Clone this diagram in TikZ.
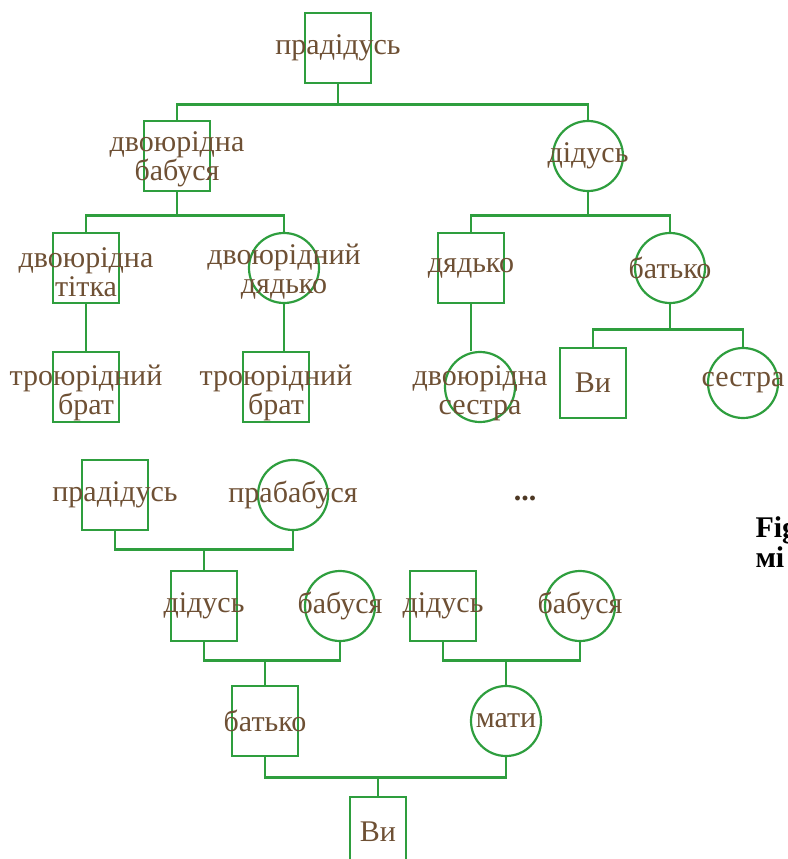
\documentclass[tikz,border=0pt]{standalone}
\usepackage{fontspec}
\setmainfont{Liberation Serif}
\definecolor{famgreen}{RGB}{46,158,62}
\definecolor{fambrown}{RGB}{110,80,52}

\begin{document}
\begin{tikzpicture}[x = 1pt, y = -1pt,
    link/.style = {draw = famgreen, line width = 2.8pt},
    male/.style = {shape = rectangle, draw = famgreen, line width = 2.2pt,
        minimum width = 66pt, minimum height = 70pt, inner sep = 0pt},
    female/.style = {shape = circle, draw = famgreen, line width = 2.2pt,
        minimum size = 70pt, inner sep = 0pt},
    every label/.style = {text = fambrown, align = center,
        font = \fontsize{30}{29}\selectfont}]
    \useasboundingbox (0,0) rectangle (787,859);
    \clip (0,0) rectangle (787,859);

    \node[male] (pd) at (338,48) [label = {center:прадідусь}] {};
    \node[male] (bb) at (177,156) [label = {[yshift=-3pt]center:двоюрідна\\бабуся}] {};
    \node[female] (dg) at (588,156) [label = {center:дідусь}] {};
    \node[male] (tt) at (86,268) [label = {[yshift=-4pt]center:двоюрідна\\тітка}] {};
    \node[female] (dd) at (284,268) [label = {[yshift=-4pt]center:двоюрідний\\дядько}] {};
    \node[male] (dk) at (471,268) [label = {center:дядько}] {};
    \node[female] (bt) at (670,268) [label = {center:батько}] {};
    \node[male] (tb1) at (86,387) [label = {[yshift=-6pt]center:троюрідний\\брат}] {};
    \node[male] (tb2) at (276,387) [label = {[yshift=-6pt]center:троюрідний\\брат}] {};
    \node[female] (ds) at (480,387) [label = {[yshift=-6pt]center:двоюрідна\\сестра}] {};
    \node[male] (vy) at (593,383) [label = {center:Ви}] {};
    \node[female] (ss) at (743,383) [label = {center:сестра}] {};

    \draw[link] (pd.south) -- ++(0,20) coordinate (j1);
    \draw[link] (bb.north) |- (j1) -| (dg.north);
    \draw[link] (bb.south) -- ++(0,23) coordinate (j2);
    \draw[link] (tt.north) |- (j2) -| (dd.north);
    \draw[link] (dg.south) -- ++(0,23) coordinate (j3);
    \draw[link] (dk.north) |- (j3) -| (bt.north);
    \draw[link] (tt.south) -- (tb1.north);
    \draw[link] (dd.south) -- (dd.south |- tb2.north);
    \draw[link] (dk.south) -- (dk.south |- ds.north);
    \draw[link] (bt.south) -- ++(0,25) coordinate (j4);
    \draw[link] (vy.north) |- (j4) -| (ss.north);

    \node[male] (pd2) at (115,495) [label = {center:прадідусь}] {};
    \node[female] (pb) at (293,495) [label = {center:прабабуся}] {};
    \node[text = fambrown!70!black, font = \fontsize{30}{29}\selectfont\bfseries] (etc) at (525,498) {...};
    \node[male] (dg2) at (204,606) [label = {center:дідусь}] {};
    \node[female] (bb2) at (340,606) [label = {center:бабуся}] {};
    \node[male] (dg3) at (443,606) [label = {center:дідусь}] {};
    \node[female] (bb3) at (580,606) [label = {center:бабуся}] {};
    \node[male] (bk) at (265,721) [label = {center:батько}] {};
    \node[female] (mt) at (506,721) [label = {center:мати}] {};
    \node[male, minimum width = 56pt] (vy2) at (378,832) [label = {center:Ви}] {};

    \draw[link] (pd2.south) -- ++(0,18) coordinate (k1) -| (pb.south);
    \draw[link] (dg2.north) -- (dg2.north |- k1);
    \draw[link] (dg2.south) -- ++(0,18) coordinate (k2) -| (bb2.south);
    \draw[link] (dg3.south) -- ++(0,18) coordinate (k3) -| (bb3.south);
    \draw[link] (bk.north) -- (bk.north |- k2);
    \draw[link] (mt.north) -- (mt.north |- k3);
    \draw[link] (bk.south) -- ++(0,20) coordinate (k4) -| (mt.south);
    \draw[link] (vy2.north) -- (vy2.north |- k4);

    \node[anchor = base west, align = left, font = \fontsize{30}{30}\selectfont\bfseries]
        (cap) at (752,567) {Fig\\мі};
\end{tikzpicture}
\end{document}
